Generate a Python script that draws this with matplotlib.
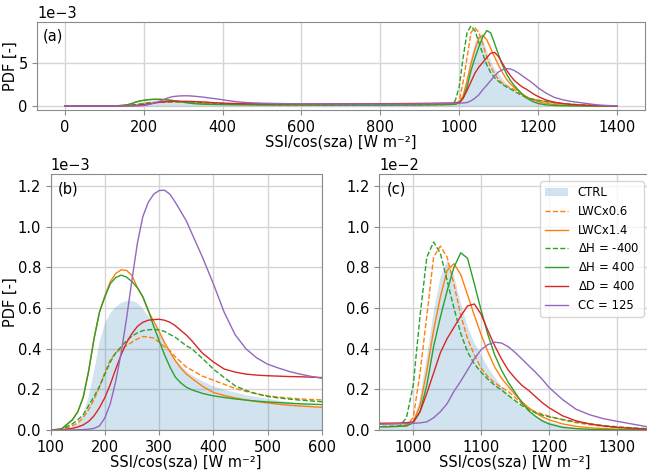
import numpy as np
import matplotlib
matplotlib.use("Agg")
import matplotlib.pyplot as plt

# SSI/cos(sza) grid [W m-2]
ssi = [0, 50, 100, 120, 140,
       150, 160, 170, 180, 190, 200, 210, 220, 230, 240, 250, 260, 270, 280, 290,
       300, 310, 320, 330, 340, 350,
       360, 380, 400, 420, 440, 460, 480, 500, 520, 540, 560, 580, 600,
       650, 700, 750, 800, 850, 900, 950,
       970, 980, 990,
       1000, 1010, 1020, 1030, 1040, 1050, 1060, 1070, 1080, 1090, 1100, 1110, 1120,
       1130, 1140, 1150, 1160, 1170, 1180, 1190, 1200,
       1220, 1240, 1260, 1280, 1300,
       1325, 1350, 1375, 1400]

# PDF values, in units of 1e-3
ctrl = [0, 0, 0, 0.002, 0.012,
        0.03, 0.079, 0.16, 0.29, 0.43, 0.523, 0.575, 0.605, 0.625, 0.634, 0.636, 0.625, 0.597, 0.56, 0.525,
        0.481, 0.435, 0.39, 0.35, 0.318, 0.29,
        0.27, 0.24, 0.215, 0.198, 0.185, 0.172, 0.162, 0.153, 0.145, 0.137, 0.129, 0.122, 0.116,
        0.112, 0.11, 0.11, 0.112, 0.118, 0.13, 0.17,
        0.185, 0.195, 0.25,
        0.4, 1.6, 3.6, 5.8, 7.5, 8.33, 7.6, 6.3, 5.1, 4.3, 3.7, 3.1, 2.6,
        2.15, 1.8, 1.45, 1.15, 0.9, 0.7, 0.53, 0.4,
        0.22, 0.1, 0.05, 0.02, 0.01,
        0.004, 0.002, 0.001, 0]

lwc06 = [0, 0, 0, 0.002, 0.02,
         0.035, 0.06, 0.10, 0.15, 0.21, 0.285, 0.345, 0.38, 0.40, 0.415, 0.432, 0.448, 0.46, 0.458, 0.452,
         0.432, 0.41, 0.39, 0.36, 0.335, 0.31,
         0.295, 0.265, 0.245, 0.225, 0.205, 0.19, 0.178, 0.168, 0.162, 0.157, 0.153, 0.15, 0.148,
         0.14, 0.135, 0.132, 0.132, 0.135, 0.145, 0.17,
         0.18, 0.19, 0.25,
         0.6, 2.8, 5.6, 8.5, 9.05, 8.5, 7.18, 5.65, 4.5, 3.7, 3.05, 2.62, 2.32,
         2.1, 1.9, 1.6, 1.3, 1.05, 0.9, 0.78, 0.68,
         0.5, 0.36, 0.26, 0.18, 0.12,
         0.07, 0.04, 0.02, 0.01]

lwc14 = [0, 0, 0, 0.005, 0.05,
         0.09, 0.161, 0.29, 0.45, 0.58, 0.66, 0.73, 0.77, 0.788, 0.785, 0.76, 0.70, 0.655, 0.585, 0.535,
         0.485, 0.43, 0.385, 0.34, 0.305, 0.276,
         0.255, 0.215, 0.185, 0.17, 0.158, 0.148, 0.14, 0.133, 0.127, 0.122, 0.118, 0.115, 0.112,
         0.108, 0.107, 0.107, 0.11, 0.115, 0.128, 0.16,
         0.17, 0.18, 0.2,
         0.4, 1.2, 2.9, 4.9, 6.55, 7.85, 8.18, 7.65, 6.65, 5.65, 4.7, 3.85, 3.1,
         2.55, 2.15, 1.75, 1.4, 1.1, 0.85, 0.65, 0.5,
         0.3, 0.18, 0.11, 0.07, 0.04,
         0.02, 0.01, 0.004, 0.001]

dh_m400 = [0, 0, 0, 0.004, 0.03,
           0.05, 0.075, 0.12, 0.165, 0.215, 0.275, 0.335, 0.38, 0.41, 0.44, 0.462, 0.478, 0.489, 0.493, 0.495,
           0.493, 0.485, 0.47, 0.456, 0.435, 0.415,
           0.40, 0.352, 0.30, 0.258, 0.218, 0.195, 0.178, 0.165, 0.158, 0.152, 0.147, 0.143, 0.139,
           0.132, 0.128, 0.126, 0.127, 0.13, 0.14, 0.17,
           0.18, 0.2, 0.6,
           2.2, 5.6, 8.5, 9.25, 8.7, 7.35, 6.0, 4.75, 3.85, 3.25, 2.85, 2.5, 2.2,
           1.97, 1.7, 1.45, 1.2, 1.0, 0.85, 0.73, 0.65,
           0.52, 0.4, 0.3, 0.22, 0.16,
           0.1, 0.06, 0.03, 0.01]

dh_p400 = [0, 0, 0, 0.005, 0.05,
           0.09, 0.161, 0.29, 0.45, 0.58, 0.655, 0.72, 0.75, 0.762, 0.752, 0.73, 0.70, 0.655, 0.59, 0.51,
           0.44, 0.37, 0.31, 0.26, 0.232, 0.211,
           0.198, 0.18, 0.168, 0.16, 0.153, 0.147, 0.142, 0.138, 0.135, 0.132, 0.129, 0.127, 0.125,
           0.12, 0.118, 0.117, 0.118, 0.122, 0.132, 0.16,
           0.17, 0.18, 0.2,
           0.35, 0.9, 2.2, 4.1, 5.55, 6.85, 8.0, 8.72, 8.45, 7.2, 5.9, 4.7, 3.7,
           2.95, 2.35, 1.85, 1.35, 0.95, 0.68, 0.45, 0.3,
           0.13, 0.07, 0.03, 0.02, 0.01,
           0.005, 0.002, 0.001, 0]

dd_400 = [0, 0, 0, 0.001, 0.008,
          0.015, 0.025, 0.042, 0.07, 0.11, 0.16, 0.225, 0.30, 0.37, 0.43, 0.475, 0.51, 0.53, 0.54, 0.543,
          0.545, 0.54, 0.53, 0.513, 0.49, 0.468,
          0.44, 0.378, 0.335, 0.30, 0.285, 0.275, 0.27, 0.267, 0.265, 0.263, 0.262, 0.26, 0.258,
          0.255, 0.255, 0.258, 0.265, 0.28, 0.3, 0.33,
          0.34, 0.345, 0.36,
          0.4, 0.9, 1.8, 2.8, 3.8, 4.5, 5.05, 5.6, 6.1, 6.2, 5.7, 4.9, 4.15,
          3.5, 2.95, 2.55, 2.2, 1.95, 1.65, 1.35, 1.1,
          0.7, 0.45, 0.3, 0.2, 0.13,
          0.08, 0.04, 0.02, 0.01]

cc_125 = [0, 0, 0, 0, 0,
          0.001, 0.002, 0.004, 0.008, 0.02, 0.06, 0.13, 0.24, 0.38, 0.55, 0.74, 0.92, 1.05, 1.12, 1.16,
          1.178, 1.18, 1.16, 1.12, 1.075, 1.03,
          0.97, 0.85, 0.72, 0.58, 0.47, 0.40, 0.355, 0.324, 0.305, 0.288, 0.275, 0.264, 0.255,
          0.24, 0.228, 0.22, 0.218, 0.22, 0.235, 0.28,
          0.29, 0.3, 0.31,
          0.33, 0.35, 0.4, 0.6, 0.9, 1.3, 1.9, 2.4, 2.95, 3.5, 3.95, 4.2, 4.32,
          4.28, 4.1, 3.82, 3.5, 3.17, 2.85, 2.5, 2.1,
          1.5, 1.02, 0.75, 0.56, 0.43,
          0.28, 0.13, 0.06, 0.02]

lines = [
    ("LWCx0.6", lwc06, "tab:orange", "--"),
    ("LWCx1.4", lwc14, "tab:orange", "-"),
    (r"$\Delta$H = -400", dh_m400, "tab:green", "--"),
    (r"$\Delta$H = 400", dh_p400, "tab:green", "-"),
    (r"$\Delta$D = 400", dd_400, "tab:red", "-"),
    ("CC = 125", cc_125, "tab:purple", "-"),
]

plt.rcParams.update({
    "font.size": 10.5,
    "axes.edgecolor": "#8a8a8a",
    "xtick.color": "#8a8a8a",
    "ytick.color": "#8a8a8a",
    "xtick.labelcolor": "black",
    "ytick.labelcolor": "black",
    "grid.color": "#d5d5d5",
    "grid.linewidth": 1.0,
})

x = np.array(ssi)
xlabel = "SSI/cos(sza) [W m\u207b\u00b2]"


def draw(ax):
    ax.fill_between(x, np.array(ctrl) * 1e-3, color="tab:blue", alpha=0.2, lw=0, label="CTRL")
    for name, vals, col, ls in lines:
        ax.plot(x, np.array(vals) * 1e-3, color=col, ls=ls, lw=1, label=name)
    ax.grid(True)
    ax.set_axisbelow(True)
    ax.ticklabel_format(axis="y", style="sci", scilimits=(0, 0))
    ax.set_xlabel(xlabel, labelpad=0)


fig = plt.figure(figsize=(6.47, 4.71), dpi=100)

ax_a = fig.add_axes([37.3 / 647, 1 - 110 / 471, 607.2 / 647, 88 / 471])
draw(ax_a)
ax_a.set_xticks(np.arange(0, 1401, 200))
ax_a.set_yticks([0, 5e-3])
ax_a.set_ylabel("PDF [-]", labelpad=0)
ax_a.text(0.009, 0.93, "(a)", transform=ax_a.transAxes, va="top", ha="left")

ax_b = fig.add_axes([50.7 / 647, 1 - 430 / 471, 271 / 647, 255.7 / 471])
draw(ax_b)
ax_b.set_xlim(100, 600)
ax_b.set_ylim(0, 1.258e-3)
ax_b.set_yticks(np.arange(0, 1.21e-3, 0.2e-3))
ax_b.set_ylabel("PDF [-]", labelpad=0)
ax_b.text(0.027, 0.97, "(b)", transform=ax_b.transAxes, va="top", ha="left")

ax_c = fig.add_axes([379.3 / 647, 1 - 430 / 471, 271.4 / 647, 255.7 / 471])
draw(ax_c)
ax_c.set_xlim(950, 1350)
ax_c.set_ylim(0, 1.258e-2)
ax_c.set_xticks([1000, 1100, 1200, 1300])
ax_c.set_yticks(np.arange(0, 1.21e-2, 0.2e-2))
ax_c.text(0.027, 0.97, "(c)", transform=ax_c.transAxes, va="top", ha="left")
ax_c.legend(loc="upper right", fontsize=8.4, borderaxespad=0.6)

fig.savefig("out.png", dpi=100)
